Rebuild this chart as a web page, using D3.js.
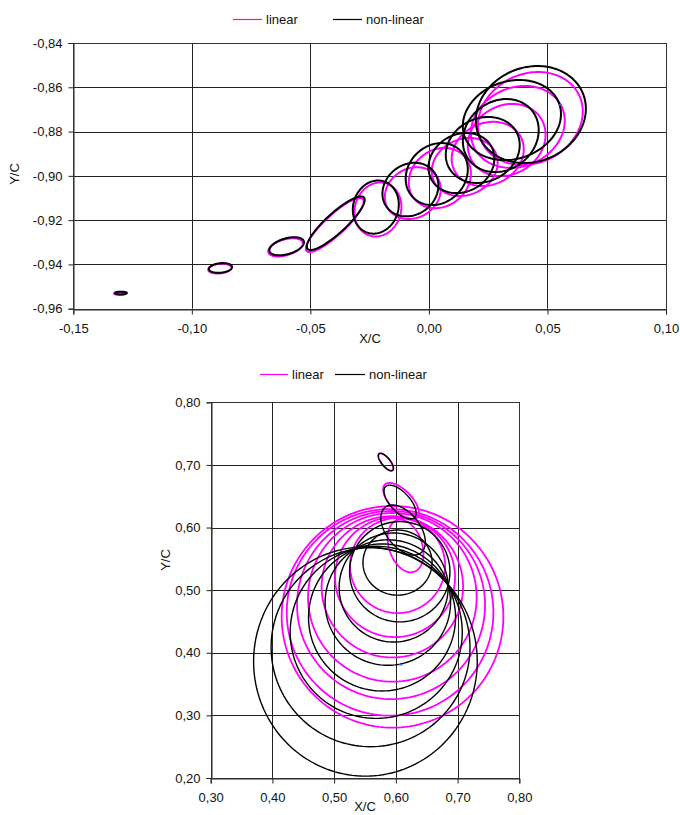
<!DOCTYPE html>
<html>
<head>
<meta charset="utf-8">
<script src="https://cdn.jsdelivr.net/npm/d3@7"></script>
<style>
  html, body { margin: 0; padding: 0; background: #fff; }
  svg { display: block; }
  text { font-family: "Liberation Sans", Arial, sans-serif; fill: #111; }
</style>
</head>
<body>
<svg id="chart" width="680" height="815"></svg>
<script>
// Vortex trajectory loops, given as ellipses: centre (cx, cy), half extents (rx, ry)
// and a phase that tilts the loop: x = cx + rx cos t, y = cy + ry sin(t + phase).

// ---- upper panel ----
const topXTicks = [-0.15, -0.10, -0.05, 0.00, 0.05, 0.10];
const topXTickLabels = ["-0,15", "-0,10", "-0,05", "0,00", "0,05", "0,10"];
const topYTicks = [-0.96, -0.94, -0.92, -0.90, -0.88, -0.86, -0.84];
const topYTickLabels = ["-0,96", "-0,94", "-0,92", "-0,90", "-0,88", "-0,86", "-0,84"];

const topLinearCx    = [-0.1303, -0.0882, -0.0605, -0.0397, -0.0215, -0.0068, 0.0046, 0.0151, 0.0248, 0.0328, 0.0375, 0.0428];
const topLinearCy    = [-0.9531, -0.9419, -0.9323, -0.9222, -0.9152, -0.9078, -0.9010, -0.8960, -0.8901, -0.8838, -0.8779, -0.8741];
const topLinearRx    = [0.0025, 0.0049, 0.0073, 0.0122, 0.0099, 0.0118, 0.0131, 0.0139, 0.0152, 0.0164, 0.0198, 0.0221];
const topLinearRy    = [0.0007, 0.0022, 0.0041, 0.0122, 0.0122, 0.0117, 0.0136, 0.0131, 0.0145, 0.0163, 0.0185, 0.0210];
const topLinearPhase = [0, 0.2, 0.45, 1.06, 0.1, 0.15, 0.15, 0.15, 0.15, 0.15, 0.15, 0.15];

const topNonlinCx    = [-0.1299, -0.0879, -0.0600, -0.0393, -0.0224, -0.0078, 0.0033, 0.0137, 0.0227, 0.0303, 0.0350, 0.0430];
const topNonlinCy    = [-0.9529, -0.9416, -0.9318, -0.9214, -0.9141, -0.9062, -0.8992, -0.8942, -0.8883, -0.8818, -0.8748, -0.8723];
const topNonlinRx    = [0.0025, 0.0049, 0.0073, 0.0122, 0.0097, 0.0118, 0.0131, 0.0139, 0.0156, 0.0160, 0.0207, 0.0232];
const topNonlinRy    = [0.0006, 0.0022, 0.0041, 0.0121, 0.0120, 0.0121, 0.0140, 0.0136, 0.0149, 0.0165, 0.0181, 0.0219];
const topNonlinPhase = [0, 0.2, 0.45, 1.06, 0.1, 0.15, 0.15, 0.15, 0.15, 0.15, 0.15, 0.12];

const topMarkX = [0.0552];
const topMarkY = [-0.868];

// ---- lower panel ----
const botXTicks = [0.30, 0.40, 0.50, 0.60, 0.70, 0.80];
const botXTickLabels = ["0,30", "0,40", "0,50", "0,60", "0,70", "0,80"];
const botYTicks = [0.20, 0.30, 0.40, 0.50, 0.60, 0.70, 0.80];
const botYTickLabels = ["0,20", "0,30", "0,40", "0,50", "0,60", "0,70", "0,80"];

const botLinearCx    = [0.5838, 0.6084, 0.6157, 0.6028, 0.5987, 0.5943, 0.5943, 0.5922, 0.5906, 0.5946];
const botLinearCy    = [0.7046, 0.6423, 0.5705, 0.5393, 0.5209, 0.5054, 0.4885, 0.4762, 0.4645, 0.4574];
const botLinearRx    = [0.0122, 0.0290, 0.0290, 0.0770, 0.0972, 0.1146, 0.1366, 0.1523, 0.1674, 0.1796];
const botLinearRy    = [0.0139, 0.0290, 0.0420, 0.0759, 0.0958, 0.1129, 0.1347, 0.1502, 0.1650, 0.1770];
const botLinearPhase = [-0.8, -0.7, -0.3, 0, 0, 0, 0, 0, 0, 0];

const botNonlinCx    = [0.5838, 0.6068, 0.6117, 0.6027, 0.6063, 0.5964, 0.5870, 0.5776, 0.5682, 0.5590, 0.5507];
const botNonlinCy    = [0.7046, 0.6407, 0.5960, 0.5440, 0.5294, 0.5042, 0.4802, 0.4564, 0.4326, 0.4088, 0.3860];
const botNonlinRx    = [0.0122, 0.0260, 0.0360, 0.0560, 0.0813, 0.0883, 0.1016, 0.1191, 0.1394, 0.1611, 0.1812];
const botNonlinRy    = [0.0139, 0.0270, 0.0400, 0.0520, 0.0801, 0.0871, 0.1002, 0.1174, 0.1374, 0.1588, 0.1830];
const botNonlinPhase = [-0.8, -0.7, -0.5, 0, 0, 0, 0, 0, 0, 0, 0];

const botMarkX = [0.6073];
const botMarkY = [0.3808];

const legendLabels = ["linear", "non-linear"];
const seriesColors = ["#ff00ff", "#000000"];

const svg = d3.select("#chart");

function loops(cx, cy, rx, ry, ph) {
  return cx.map((c, i) => ({ cx: c, cy: cy[i], rx: rx[i], ry: ry[i], ph: ph[i] }));
}

function loopPoints(e, n) {
  const pts = [];
  for (let k = 0; k < n; k++) {
    const t = (2 * Math.PI * k) / n;
    pts.push([e.cx + e.rx * Math.cos(t), e.cy + e.ry * Math.sin(t + e.ph)]);
  }
  return pts;
}

function panel(cfg) {
  const x = d3.scaleLinear().domain(cfg.xDomain).range([cfg.left, cfg.right]);
  const y = d3.scaleLinear().domain(cfg.yDomain).range([cfg.bottom, cfg.top]);
  const g = svg.append("g");

  // grid
  g.append("g").selectAll("line.gx").data(cfg.xTicks).join("line")
    .attr("x1", d => Math.round(x(d)) + 0.5).attr("x2", d => Math.round(x(d)) + 0.5)
    .attr("y1", cfg.top).attr("y2", cfg.bottom)
    .attr("stroke", "#222").attr("stroke-width", 1);
  g.append("g").selectAll("line.gy").data(cfg.yTicks).join("line")
    .attr("y1", d => Math.round(y(d)) + 0.5).attr("y2", d => Math.round(y(d)) + 0.5)
    .attr("x1", cfg.left).attr("x2", cfg.right)
    .attr("stroke", "#222").attr("stroke-width", 1);

  // axes
  const ax = g.append("g")
    .attr("transform", `translate(0,${Math.round(cfg.bottom) + 0.5})`)
    .call(d3.axisBottom(x).tickValues(cfg.xTicks).tickSize(5).tickPadding(9)
      .tickFormat((d, i) => cfg.xLabels[i]));
  const ay = g.append("g")
    .attr("transform", `translate(${Math.round(cfg.left) + 0.5},0)`)
    .call(d3.axisLeft(y).tickValues(cfg.yTicks).tickSize(5).tickPadding(6)
      .tickFormat((d, i) => cfg.yLabels[i]));
  [ax, ay].forEach(a => {
    a.selectAll("path.domain").attr("stroke", "#222");
    a.selectAll(".tick line").attr("stroke", "#222");
    a.selectAll("text").attr("font-size", 13).attr("fill", "#111")
      .attr("font-family", "'Liberation Sans', Arial, sans-serif");
  });

  // axis titles
  g.append("text").attr("x", cfg.xTitle[0]).attr("y", cfg.xTitle[1])
    .attr("text-anchor", "middle").attr("font-size", 13).text("X/C");
  g.append("text")
    .attr("transform", `translate(${cfg.yTitle[0]},${cfg.yTitle[1]}) rotate(-90)`)
    .attr("text-anchor", "middle").attr("font-size", 13).text("Y/C");

  // loops
  const clipId = "clip" + cfg.id;
  svg.append("clipPath").attr("id", clipId).append("rect")
    .attr("x", cfg.left).attr("y", cfg.top - 1)
    .attr("width", cfg.right - cfg.left).attr("height", cfg.bottom - cfg.top + 2);
  const line = d3.line().x(d => x(d[0])).y(d => y(d[1])).curve(d3.curveLinearClosed);
  const plot = g.append("g").attr("clip-path", `url(#${clipId})`);
  cfg.series.forEach((s, si) => {
    plot.append("g").selectAll("path").data(s).join("path")
      .attr("d", e => line(loopPoints(e, 160)))
      .attr("fill", "none")
      .attr("stroke", seriesColors[si])
      .attr("stroke-width", cfg.widths[si]);
  });
  // small marker
  plot.selectAll("line.mark").data(cfg.markX).join("line")
    .attr("x1", d => x(d) - 1.5).attr("x2", d => x(d) + 2)
    .attr("y1", (d, i) => y(cfg.markY[i])).attr("y2", (d, i) => y(cfg.markY[i]))
    .attr("stroke", "#3a6df0").attr("stroke-width", 1.5);

  // frame
  g.append("rect")
    .attr("x", Math.round(cfg.left) + 0.5).attr("y", Math.round(cfg.top) + 0.5)
    .attr("width", Math.round(cfg.right) - Math.round(cfg.left))
    .attr("height", Math.round(cfg.bottom) - Math.round(cfg.top))
    .attr("fill", "none").attr("stroke", "#333").attr("stroke-width", 1);

  // legend
  const lg = g.append("g");
  cfg.legend.forEach((L, i) => {
    lg.append("line").attr("x1", L[0]).attr("x2", L[1])
      .attr("y1", cfg.legendY + 0.5).attr("y2", cfg.legendY + 0.5)
      .attr("stroke", seriesColors[i]).attr("stroke-width", 1.2);
    lg.append("text").attr("x", L[1] + 4).attr("y", cfg.legendY + 4.5)
      .attr("font-size", 13).text(legendLabels[i]);
  });
}

panel({
  id: "top",
  xDomain: [-0.15, 0.10], yDomain: [-0.96, -0.84],
  left: 73.3, right: 666, top: 43, bottom: 308.7,
  xTicks: topXTicks, xLabels: topXTickLabels,
  yTicks: topYTicks, yLabels: topYTickLabels,
  xTitle: [370, 343], yTitle: [19, 174],
  series: [
    loops(topLinearCx, topLinearCy, topLinearRx, topLinearRy, topLinearPhase),
    loops(topNonlinCx, topNonlinCy, topNonlinRx, topNonlinRy, topNonlinPhase)
  ],
  widths: [2, 2],
  markX: topMarkX, markY: topMarkY,
  legend: [[233, 262], [333, 362]], legendY: 19
});

panel({
  id: "bot",
  xDomain: [0.30, 0.80], yDomain: [0.20, 0.80],
  left: 210.7, right: 519.3, top: 402.3, bottom: 778,
  xTicks: botXTicks, xLabels: botXTickLabels,
  yTicks: botYTicks, yLabels: botYTickLabels,
  xTitle: [365, 811], yTitle: [170, 560],
  series: [
    loops(botLinearCx, botLinearCy, botLinearRx, botLinearRy, botLinearPhase),
    loops(botNonlinCx, botNonlinCy, botNonlinRx, botNonlinRy, botNonlinPhase)
  ],
  widths: [1.8, 1.4],
  markX: botMarkX, markY: botMarkY,
  legend: [[260, 288], [335, 365]], legendY: 374
});
</script>
</body>
</html>
